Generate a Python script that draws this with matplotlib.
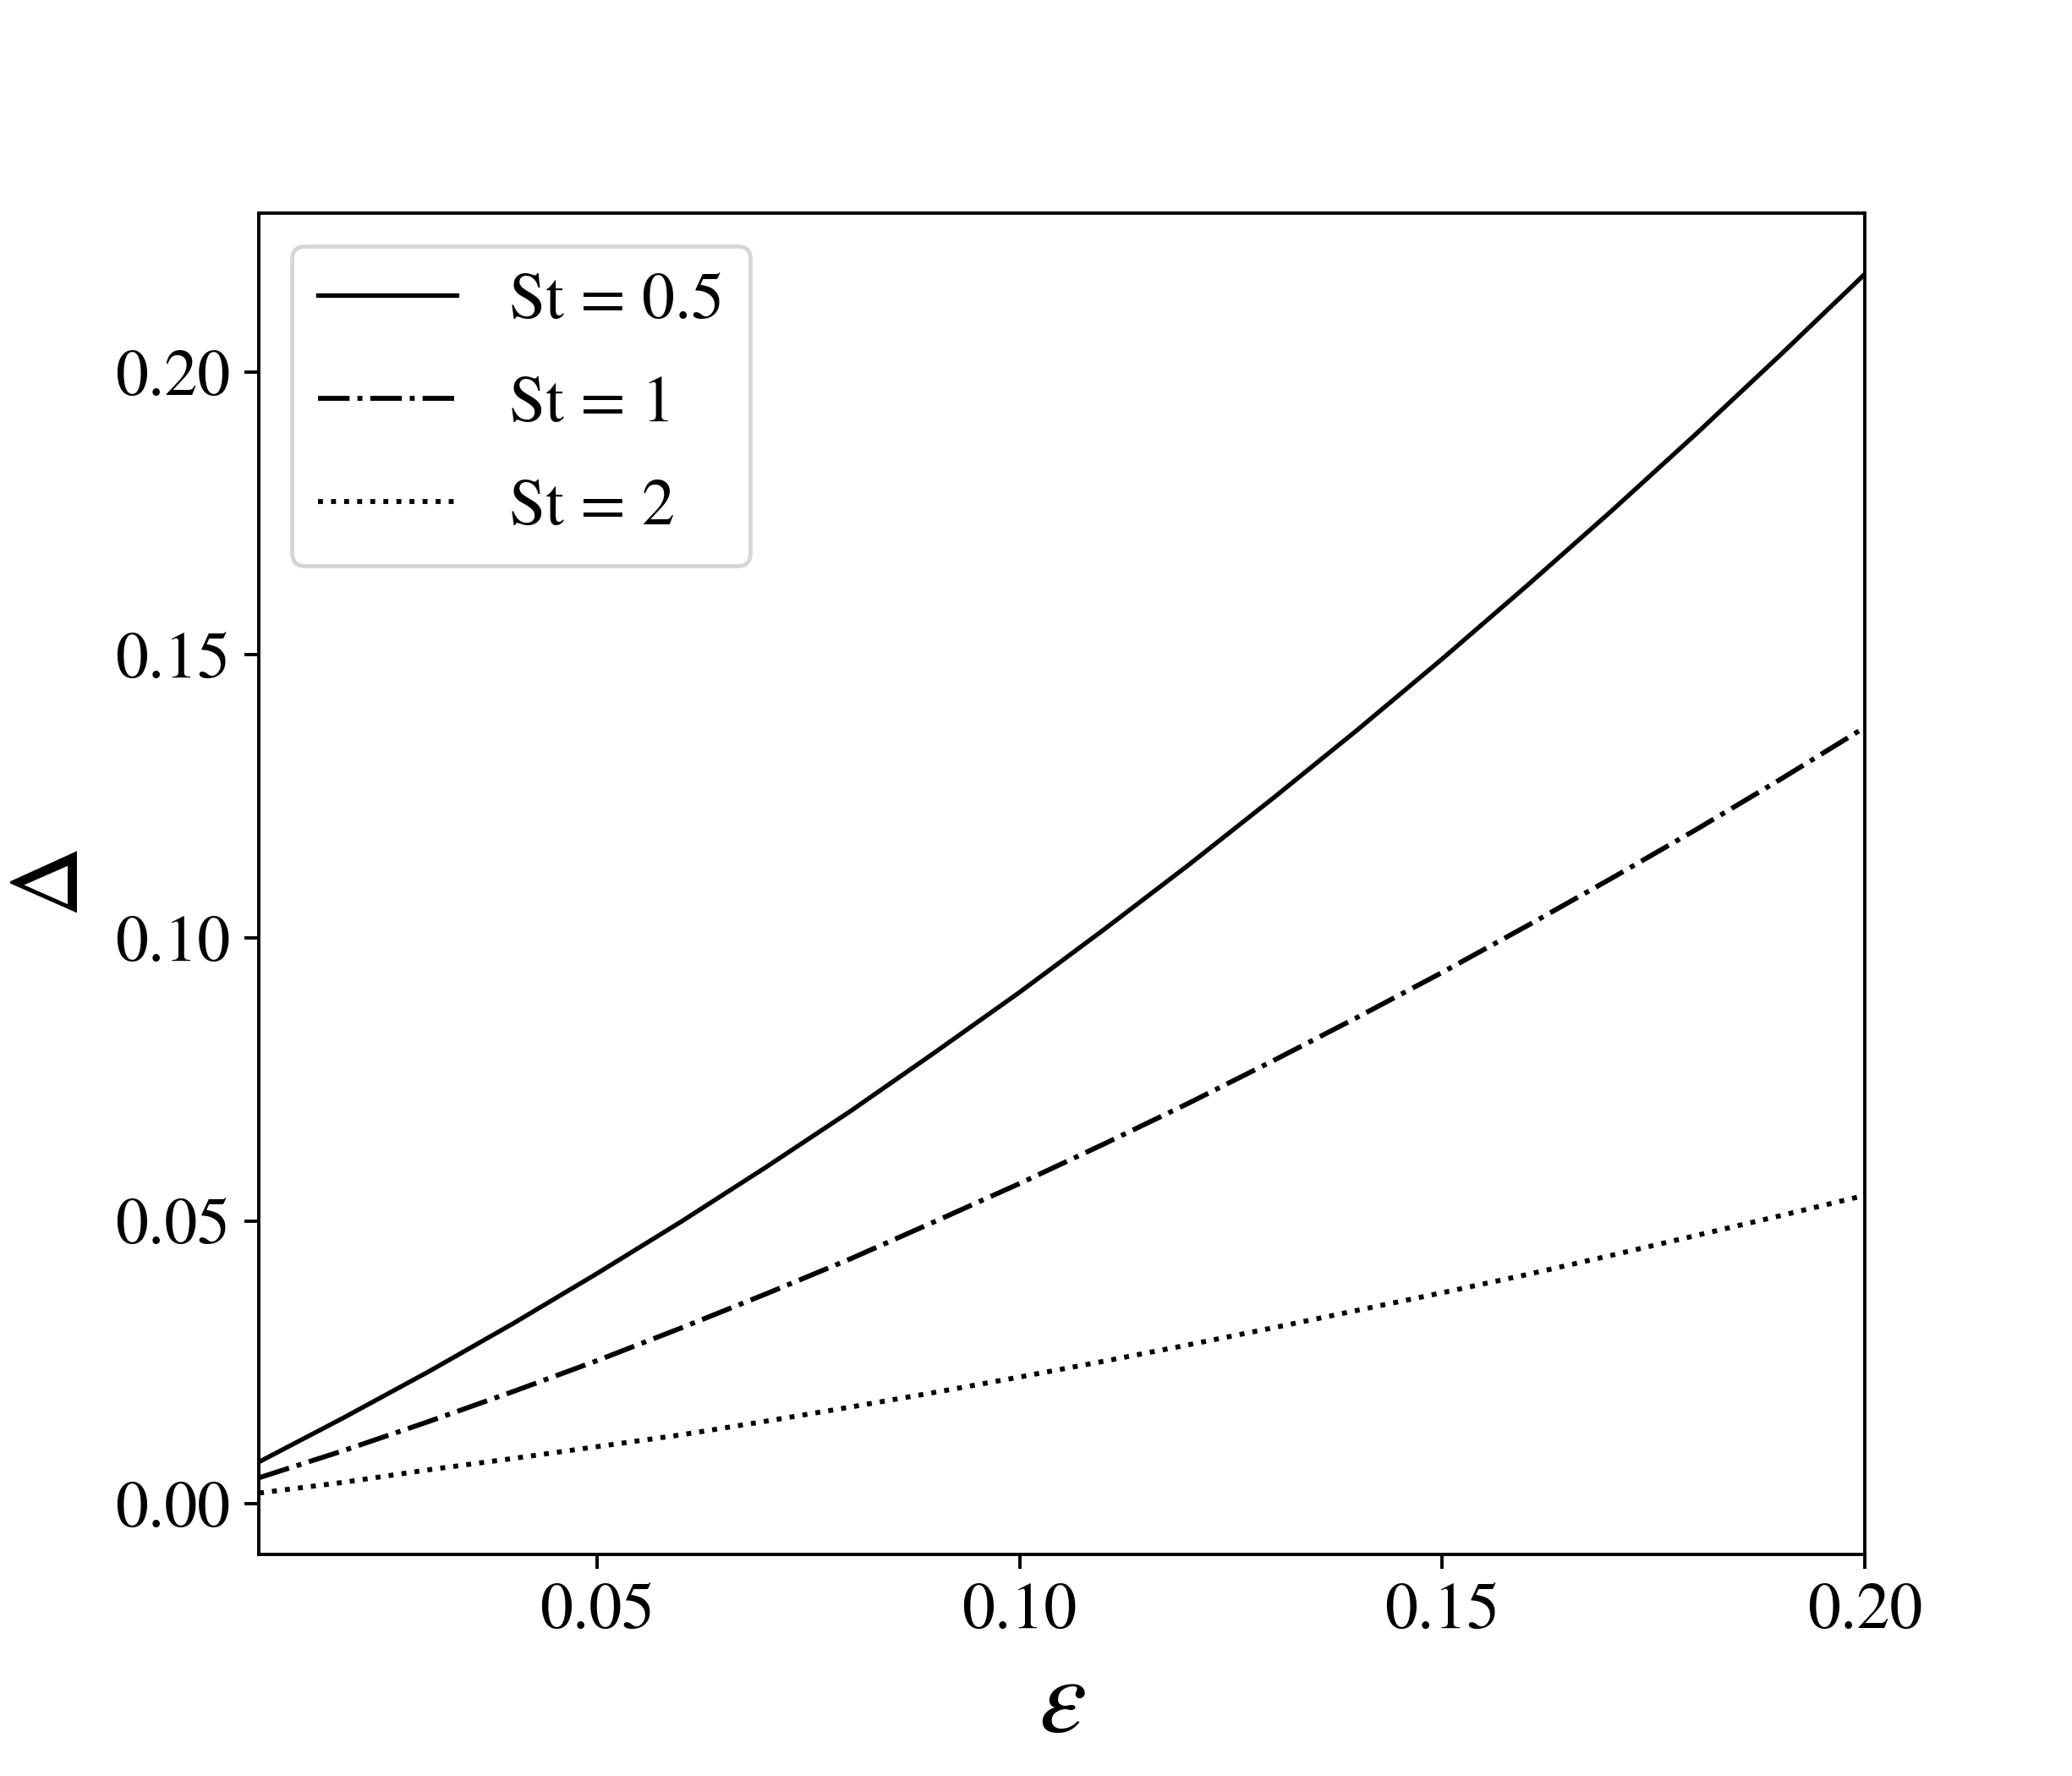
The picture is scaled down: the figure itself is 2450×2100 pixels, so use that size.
import matplotlib
matplotlib.use("Agg")
import matplotlib.pyplot as plt

plt.rcParams['font.family'] = ['STIXGeneral', 'Liberation Serif', 'DejaVu Serif']
plt.rcParams['mathtext.fontset'] = 'stix'

eps = [0.01, 0.02, 0.03, 0.04, 0.05, 0.06, 0.07, 0.08, 0.09, 0.10,
       0.11, 0.12, 0.13, 0.14, 0.15, 0.16, 0.17, 0.18, 0.19, 0.20]

delta_st05 = [0.0074, 0.0152, 0.0233, 0.0318, 0.0407, 0.0499, 0.0595, 0.0694, 0.0798, 0.0904,
              0.1015, 0.1129, 0.1247, 0.1368, 0.1493, 0.1622, 0.1754, 0.1890, 0.2030, 0.2173]

delta_st1 = [0.0046, 0.0094, 0.0145, 0.0198, 0.0253, 0.0311, 0.0371, 0.0433, 0.0499, 0.0566,
             0.0636, 0.0708, 0.0783, 0.0860, 0.0939, 0.1021, 0.1105, 0.1191, 0.1280, 0.1372]

delta_st2 = [0.0019, 0.0038, 0.0060, 0.0080, 0.0101, 0.0122, 0.0146, 0.0171, 0.0197, 0.0224,
             0.0252, 0.0281, 0.0311, 0.0342, 0.0373, 0.0405, 0.0439, 0.0474, 0.0509, 0.0545]

labels = ['St = 0.5', 'St = 1', 'St = 2']

fig = plt.figure(figsize=(7, 6), dpi=350)
ax = fig.add_axes([0.125, 0.125, 0.775, 0.755])

ax.plot(eps, delta_st05, color='black', linestyle='-', linewidth=1.1, label=labels[0])
ax.plot(eps, delta_st1, color='black', linestyle='-.', linewidth=1.2, label=labels[1])
ax.plot(eps, delta_st2, color='black', linestyle=':', linewidth=1.2, label=labels[2])

ax.set_xlim(0.01, 0.20)
ax.set_xticks([0.05, 0.10, 0.15, 0.20])
ax.set_yticks([0.00, 0.05, 0.10, 0.15, 0.20])
ax.xaxis.set_major_formatter(matplotlib.ticker.FormatStrFormatter('%.2f'))
ax.yaxis.set_major_formatter(matplotlib.ticker.FormatStrFormatter('%.2f'))
ax.tick_params(labelsize=16)

ax.set_xlabel(r'$\varepsilon$', fontsize=26)
ax.set_ylabel(r'$\Delta$', fontsize=24)

ax.legend(loc='upper left', fontsize=16, labelspacing=0.65, handlelength=2.1)

fig.savefig('out.png', dpi=350)
